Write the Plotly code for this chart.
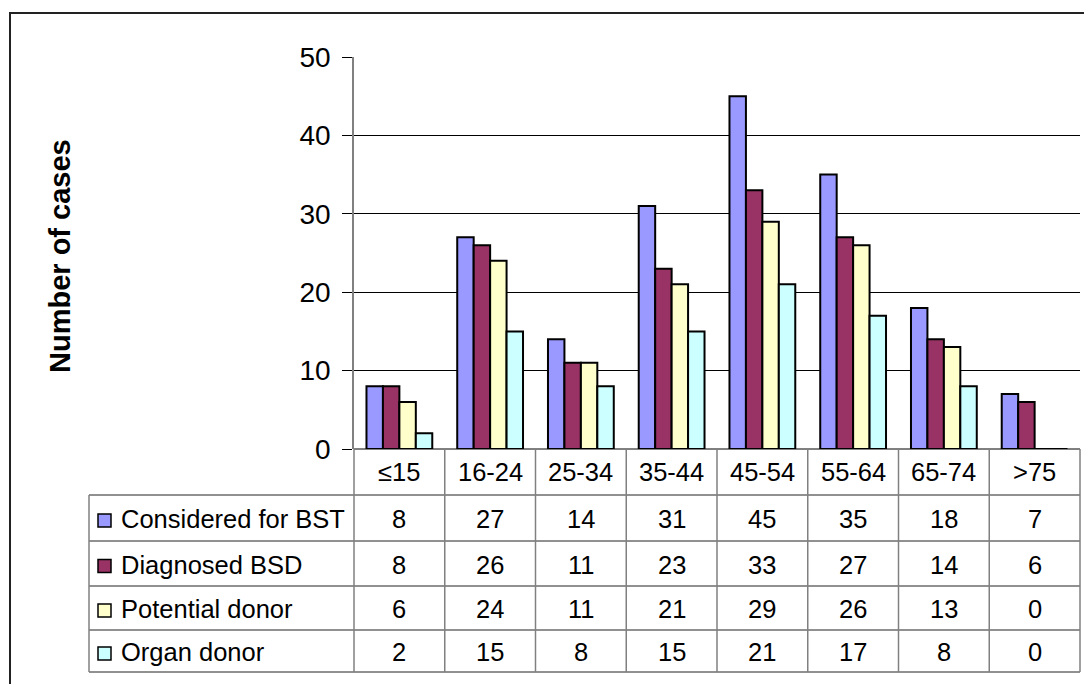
import plotly.graph_objects as go

# Age groups and counts per stage of the donation pathway
age_groups = ["≤15", "16-24", "25-34", "35-44", "45-54", "55-64", "65-74", ">75"]
series_names = ["Considered for BST", "Diagnosed BSD", "Potential donor", "Organ donor"]
considered_for_bst = [8, 27, 14, 31, 45, 35, 18, 7]
diagnosed_bsd = [8, 26, 11, 23, 33, 27, 14, 6]
potential_donor = [6, 24, 11, 21, 29, 26, 13, 0]
organ_donor = [2, 15, 8, 15, 21, 17, 8, 0]
y_ticks = [0, 10, 20, 30, 40, 50]

series_values = [considered_for_bst, diagnosed_bsd, potential_donor, organ_donor]
bar_colors = ["#9999FF", "#993366", "#FFFFCC", "#CCFFFF"]

W, H = 1084, 684
FONT = "Arial, 'Liberation Sans', sans-serif"
TABLE_FONT = 25.5


def px(x):
    return x / W


def py(y):
    return 1 - y / H


# plot area in pixels
PL, PR, PT, PB = 354, 1080, 57, 449
# data table rows
TABLE_LEFT = 89
ROW_LINES = [495, 541, 586, 630, 672]

fig = go.Figure()
for name, vals, col in zip(series_names, series_values, bar_colors):
    fig.add_trace(go.Bar(
        x=age_groups, y=vals, name=name,
        marker=dict(color=col, line=dict(color="black", width=2)),
        showlegend=False,
    ))

shapes = []
annotations = []

# outer chart frame
shapes.append(dict(type="rect", xref="paper", yref="paper",
                   x0=px(10), x1=px(1100), y0=py(700), y1=py(13),
                   line=dict(color="#222222", width=2), layer="below"))

# horizontal table lines
shapes.append(dict(type="line", xref="paper", yref="paper",
                   x0=px(PL), x1=px(PR), y0=py(PB), y1=py(PB),
                   line=dict(color="black", width=1)))
for ry in ROW_LINES:
    shapes.append(dict(type="line", xref="paper", yref="paper",
                       x0=px(TABLE_LEFT), x1=px(PR), y0=py(ry), y1=py(ry),
                       line=dict(color="#222222", width=1)))

# vertical table lines
n = len(age_groups)
col_w = (PR - PL) / n
for k in range(n + 1):
    xk = PL + k * col_w
    shapes.append(dict(type="line", xref="paper", yref="paper",
                       x0=px(xk), x1=px(xk), y0=py(PB), y1=py(ROW_LINES[-1]),
                       line=dict(color="#808080", width=1.5)))
shapes.append(dict(type="line", xref="paper", yref="paper",
                   x0=px(TABLE_LEFT), x1=px(TABLE_LEFT),
                   y0=py(ROW_LINES[0]), y1=py(ROW_LINES[-1]),
                   line=dict(color="#808080", width=1.5)))

# header row with age groups
for k, g in enumerate(age_groups):
    annotations.append(dict(xref="paper", yref="paper",
                            x=px(PL + (k + 0.5) * col_w), y=py((PB + ROW_LINES[0]) / 2),
                            text=g, showarrow=False, xanchor="center", yanchor="middle",
                            font=dict(family=FONT, size=TABLE_FONT, color="black")))

# one row per series: legend key, name and values
for r, (name, vals, col) in enumerate(zip(series_names, series_values, bar_colors)):
    yc = (ROW_LINES[r] + ROW_LINES[r + 1]) / 2
    shapes.append(dict(type="rect", xref="paper", yref="paper",
                       x0=px(98), x1=px(111), y0=py(yc + 9), y1=py(yc - 4),
                       fillcolor=col, line=dict(color="black", width=1.5)))
    annotations.append(dict(xref="paper", yref="paper", x=px(119), y=py(yc + 1),
                            text=name, showarrow=False, xanchor="left", yanchor="middle",
                            font=dict(family=FONT, size=TABLE_FONT, color="black")))
    for k, v in enumerate(vals):
        annotations.append(dict(xref="paper", yref="paper",
                                x=px(PL + (k + 0.5) * col_w), y=py(yc + 1),
                                text=str(v), showarrow=False, xanchor="center", yanchor="middle",
                                font=dict(family=FONT, size=TABLE_FONT, color="black")))

# y axis title
annotations.append(dict(xref="paper", yref="paper", x=px(60), y=py(256),
                        text="<b>Number of cases</b>", textangle=-90, showarrow=False,
                        xanchor="center", yanchor="middle",
                        font=dict(family=FONT, size=29, color="black")))

fig.update_layout(
    template="none",
    width=W, height=H,
    margin=dict(l=0, r=0, t=0, b=0, pad=0, autoexpand=False),
    paper_bgcolor="white", plot_bgcolor="white",
    barmode="group", bargap=0.275, bargroupgap=0,
    shapes=shapes, annotations=annotations,
    xaxis=dict(domain=[px(PL), px(PR)], showticklabels=False, showgrid=False,
               showline=False, zeroline=False, ticks="", automargin=False),
    yaxis=dict(domain=[py(PB), py(PT)], range=[0, 50], tickvals=y_ticks,
               showgrid=True, gridcolor="black", gridwidth=1,
               zeroline=False, showline=True, linecolor="#808080", linewidth=1.5,
               ticks="outside", ticklen=10, tickcolor="black", tickwidth=1,
               ticklabelstandoff=6, automargin=False,
               tickfont=dict(family=FONT, size=28, color="black")),
)

fig.write_html("out.html")
